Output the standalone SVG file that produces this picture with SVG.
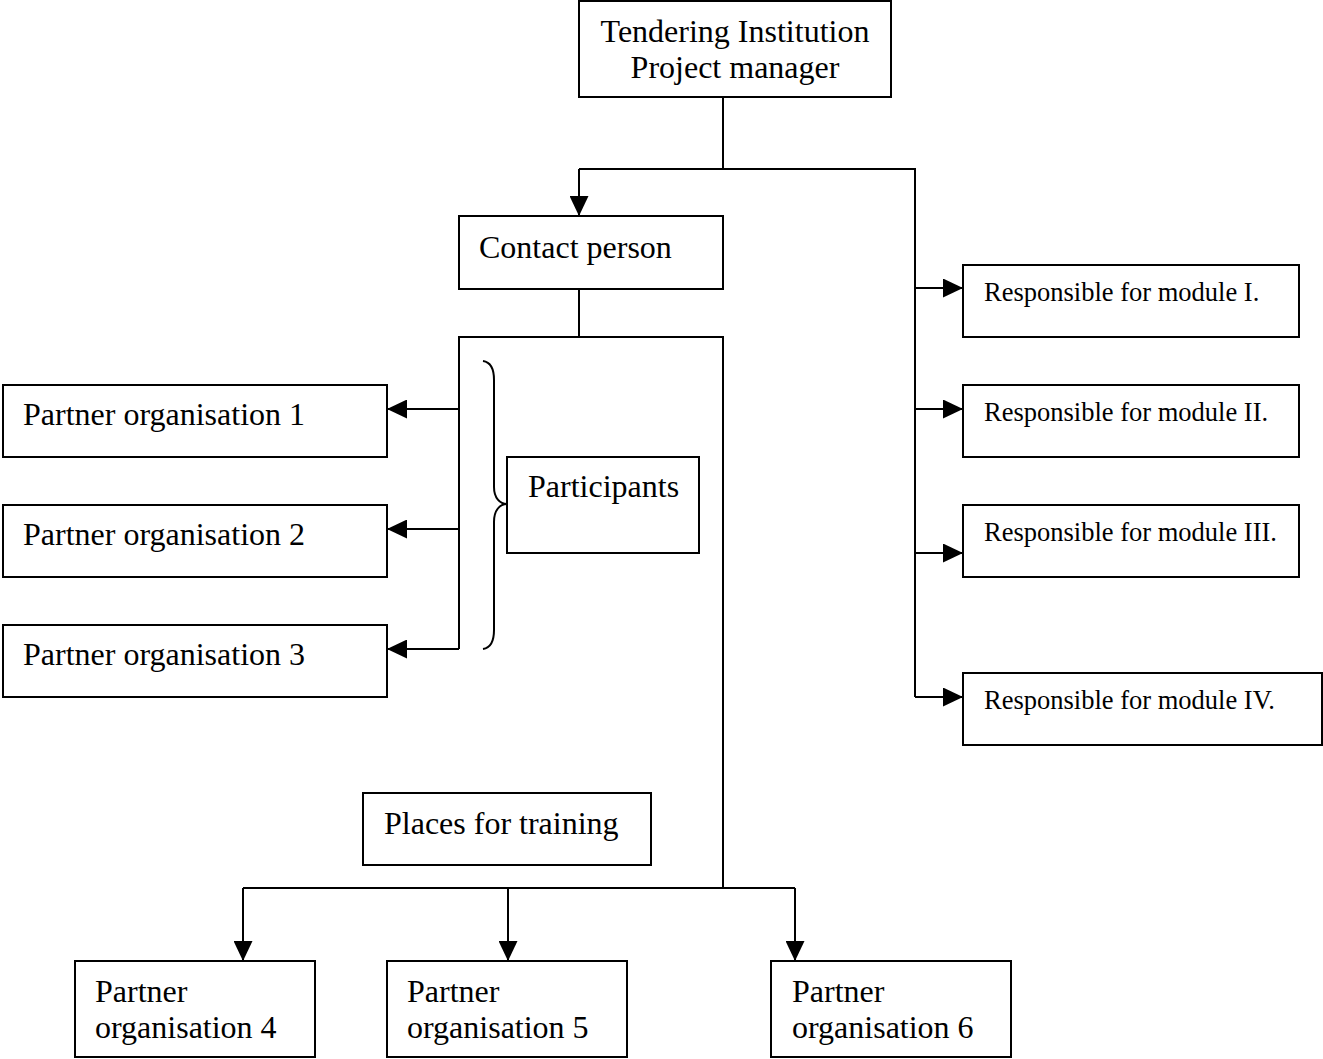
<svg xmlns="http://www.w3.org/2000/svg" width="1323" height="1059" viewBox="0 0 1323 1059">
<style>
.box{fill:#fff;stroke:#000;stroke-width:2}
.t{font-family:"Liberation Serif","Times New Roman",serif;font-size:32px;fill:#000}
.s{font-family:"Liberation Serif","Times New Roman",serif;font-size:26.5px;fill:#000}
.c{fill:none;stroke:#000;stroke-width:2}
.a{fill:none;stroke:#000;stroke-width:2;marker-end:url(#arr)}
</style>
<defs>
<marker id="arr" markerUnits="userSpaceOnUse" viewBox="0 0 20 19" refX="20" refY="9.5" markerWidth="20" markerHeight="19" orient="auto">
<path d="M0,0 L20,9.5 L0,19 z" fill="#000"/>
</marker>
</defs>
<rect width="1323" height="1059" fill="#fff"/>
<g id="connectors">
<path class="c" d="M723,97 V169"/>
<path class="c" d="M579,169 H915 V697"/>
<path class="a" d="M579,169 V216"/>
<path class="a" d="M915,288 H963"/>
<path class="a" d="M915,409 H963"/>
<path class="a" d="M915,553 H963"/>
<path class="a" d="M915,697 H963"/>
<path class="c" d="M579,289 V337"/>
<path class="c" d="M459,649 V337 H723 V888"/>
<path class="a" d="M459,409 H387"/>
<path class="a" d="M459,529 H387"/>
<path class="a" d="M459,649 H387"/>
<path class="c" d="M243,888 H795"/>
<path class="a" d="M243,888 V961"/>
<path class="a" d="M508,888 V961"/>
<path class="a" d="M795,888 V961"/>
<path class="c" stroke-width="1.5" d="M483,361 C490,362 494,368 494,380 V487 C494,498 500,504 507,504 C500,504 494,510 494,522 V630 C494,642 490,648 483,649"/>
</g>
<g id="tendering">
<rect class="box" x="579" y="1" width="312" height="96"/>
<text class="t" x="735" y="42" text-anchor="middle">Tendering Institution</text>
<text class="t" x="735" y="78" text-anchor="middle">Project manager</text>
</g>
<g id="contact">
<rect class="box" x="459" y="216" width="264" height="73"/>
<text class="t" x="479" y="258">Contact person</text>
</g>
<g id="partner1">
<rect class="box" x="3" y="385" width="384" height="72"/>
<text class="t" x="23" y="425">Partner organisation 1</text>
</g>
<g id="partner2">
<rect class="box" x="3" y="505" width="384" height="72"/>
<text class="t" x="23" y="545">Partner organisation 2</text>
</g>
<g id="partner3">
<rect class="box" x="3" y="625" width="384" height="72"/>
<text class="t" x="23" y="665">Partner organisation 3</text>
</g>
<g id="participants">
<rect class="box" x="507" y="457" width="192" height="96"/>
<text class="t" x="528" y="497">Participants</text>
</g>
<g id="places">
<rect class="box" x="363" y="793" width="288" height="72"/>
<text class="t" x="384" y="834">Places for training</text>
</g>
<g id="module1">
<rect class="box" x="963" y="265" width="336" height="72"/>
<text class="s" x="984" y="301">Responsible for module I.</text>
</g>
<g id="module2">
<rect class="box" x="963" y="385" width="336" height="72"/>
<text class="s" x="984" y="421">Responsible for module II.</text>
</g>
<g id="module3">
<rect class="box" x="963" y="505" width="336" height="72"/>
<text class="s" x="984" y="541">Responsible for module III.</text>
</g>
<g id="module4">
<rect class="box" x="963" y="673" width="359" height="72"/>
<text class="s" x="984" y="709">Responsible for module IV.</text>
</g>
<g id="partner4">
<rect class="box" x="75" y="961" width="240" height="96"/>
<text class="t" x="95" y="1002">Partner</text>
<text class="t" x="95" y="1038">organisation 4</text>
</g>
<g id="partner5">
<rect class="box" x="387" y="961" width="240" height="96"/>
<text class="t" x="407" y="1002">Partner</text>
<text class="t" x="407" y="1038">organisation 5</text>
</g>
<g id="partner6">
<rect class="box" x="771" y="961" width="240" height="96"/>
<text class="t" x="792" y="1002">Partner</text>
<text class="t" x="792" y="1038">organisation 6</text>
</g>
</svg>
